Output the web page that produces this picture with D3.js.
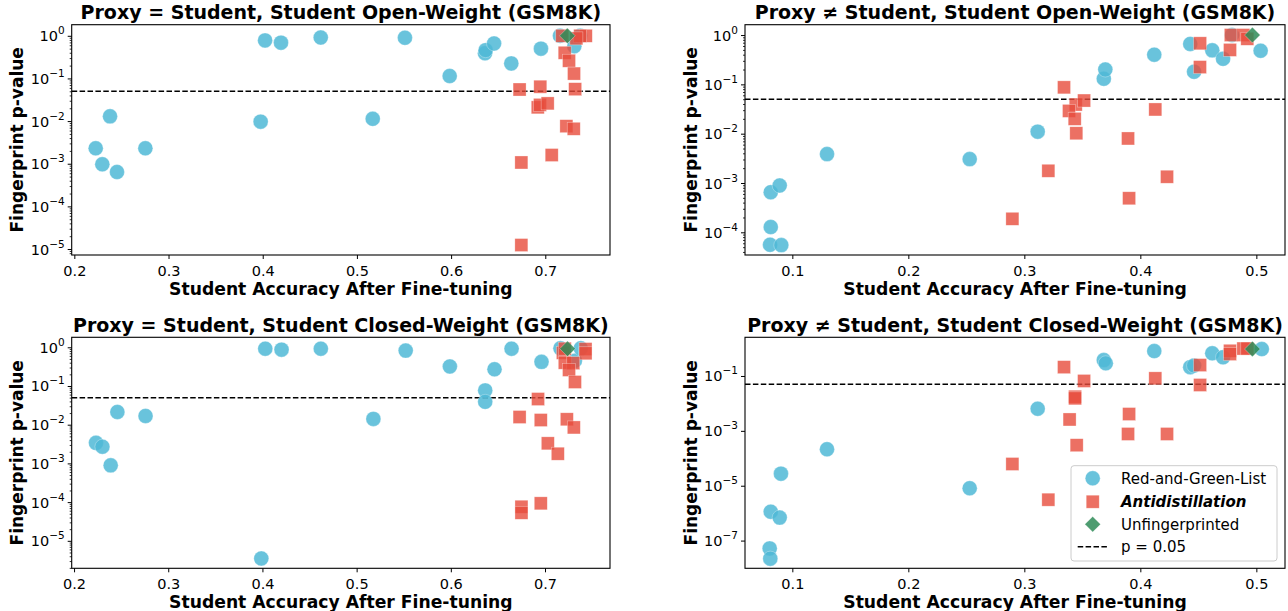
<!DOCTYPE html>
<html><head><meta charset="utf-8">
<script src="https://cdn.jsdelivr.net/npm/d3@7"></script>
<style>body{margin:0;background:#fff}svg{display:block;font-family:"DejaVu Sans",sans-serif}</style>
</head><body><svg id="c" width="1288" height="611"></svg>
<script>
// ---- Data: [student accuracy, fingerprint p-value] ----
const titles = [
  "Proxy = Student, Student Open-Weight (GSM8K)",
  "Proxy \u2260 Student, Student Open-Weight (GSM8K)",
  "Proxy = Student, Student Closed-Weight (GSM8K)",
  "Proxy \u2260 Student, Student Closed-Weight (GSM8K)"
];
const seriesNames = ["Red-and-Green-List", "Antidistillation", "Unfingerprinted", "p = 0.05"];
const threshold = 0.05;

const rgOpenSame = [[0.2227,0.0023],[0.2297,0.00097],[0.2379,0.0129],[0.2453,0.00064],[0.2754,0.0023],[0.3978,0.0097],[0.4025,0.78],[0.4194,0.69],[0.4616,0.91],[0.551,0.90],[0.5168,0.0113],[0.5985,0.114],[0.636,0.39],[0.6367,0.46],[0.6456,0.66],[0.6639,0.225],[0.6954,0.50],[0.7156,1.0],[0.7308,0.57],[0.737,1.0]];
const adOpenSame = [[0.718,1.0],[0.743,1.0],[0.737,1.0],[0.733,0.87],[0.7206,0.40],[0.7252,0.26],[0.7305,0.13],[0.6727,0.055],[0.6947,0.064],[0.7317,0.056],[0.692,0.021],[0.6944,0.024],[0.7025,0.026],[0.7224,0.0076],[0.7302,0.0066],[0.7068,0.0016],[0.6746,0.00107],[0.6746,1.24e-5]];
const ufOpenSame = [[0.7234,1.0]];

const rgOpenDiff = [[0.1299,0.00386],[0.2529,0.00305],[0.0814,0.00065],[0.0891,0.00089],[0.0814,0.000128],[0.0808,5.6e-5],[0.0905,5.5e-5],[0.3115,0.011],[0.3685,0.13],[0.3698,0.20],[0.412,0.40],[0.443,0.66],[0.4463,0.18],[0.462,0.49],[0.4713,0.33],[0.5037,0.48],[0.479,1.0]];
const adOpenDiff = [[0.2897,0.000188],[0.4515,0.68],[0.4514,0.224],[0.4773,0.50],[0.478,1.0],[0.4888,1.0],[0.4922,0.84],[0.3342,0.087],[0.3443,0.039],[0.3515,0.047],[0.3385,0.029],[0.3434,0.020],[0.3448,0.0102],[0.4129,0.031],[0.3894,0.008],[0.423,0.00134],[0.3207,0.00177],[0.3903,0.00049]];
const ufOpenDiff = [[0.4966,1.0]];

const rgClosedSame = [[0.2233,0.0034],[0.2301,0.0027],[0.2389,0.00089],[0.2460,0.0213],[0.2759,0.0168],[0.3988,3.5e-6],[0.403,0.92],[0.4203,0.87],[0.462,0.92],[0.5521,0.82],[0.5178,0.0141],[0.599,0.32],[0.6365,0.077],[0.6365,0.039],[0.6464,0.27],[0.6645,0.92],[0.6963,0.42],[0.7164,0.94],[0.7317,0.45],[0.738,0.94]];
const adClosedSame = [[0.719,0.72],[0.721,0.92],[0.743,0.9],[0.743,0.70],[0.721,0.40],[0.730,0.39],[0.7255,0.26],[0.7318,0.127],[0.6926,0.046],[0.673,0.0158],[0.6955,0.0132],[0.7232,0.0138],[0.7306,0.0085],[0.703,0.0033],[0.7136,0.00178],[0.6955,9.3e-5],[0.675,7.6e-5],[0.675,5.3e-5]];
const ufClosedSame = [[0.7239,0.92]];

const rgClosedDiff = [[0.1299,0.000213],[0.0902,2.75e-5],[0.0814,1.13e-6],[0.0891,6.9e-7],[0.0805,5.2e-8],[0.081,2.2e-8],[0.2529,8.1e-6],[0.3115,0.0064],[0.3685,0.38],[0.3702,0.29],[0.412,0.81],[0.443,0.21],[0.4463,0.24],[0.462,0.67],[0.4713,0.48],[0.5047,0.96]];
const adClosedDiff = [[0.2897,6.2e-5],[0.3342,0.21],[0.3515,0.066],[0.3437,0.0176],[0.3437,0.0153],[0.3390,0.0026],[0.3451,0.0003],[0.3207,3.1e-6],[0.4129,0.082],[0.3903,0.0041],[0.3894,0.00077],[0.423,0.00077],[0.4515,0.25],[0.4515,0.047],[0.4773,0.83],[0.4773,0.63],[0.4888,1.0],[0.4922,1.0]];
const ufClosedDiff = [[0.4966,0.96]];

const xTicksSame = [0.2,0.3,0.4,0.5,0.6,0.7];
const xTicksDiff = [0.1,0.2,0.3,0.4,0.5];
const yExpTL = [0,-1,-2,-3,-4,-5];
const yExpTR = [0,-1,-2,-3,-4];
const yExpBL = [0,-1,-2,-3,-4,-5];
const yExpBR = [-1,-3,-5,-7];

// ---- Layout ----
const panels = [
  {title:titles[0], L:71.7, R:610, T:24.7, B:255, xd:[0.1972,0.7687], yd:[-5.14,0.26], xt:xTicksSame, ye:yExpTL, minor:true, rg:rgOpenSame, ad:adOpenSame, uf:ufOpenSame},
  {title:titles[1], L:745, R:1285, T:24.7, B:255, xd:[0.0592,0.5247], yd:[-4.46,0.21], xt:xTicksDiff, ye:yExpTR, minor:true, rg:rgOpenDiff, ad:adOpenDiff, uf:ufOpenDiff},
  {title:titles[2], L:71.7, R:610, T:337.3, B:568.3, xd:[0.1975,0.769], yd:[-5.71,0.258], xt:xTicksSame, ye:yExpBL, minor:true, rg:rgClosedSame, ad:adClosedSame, uf:ufClosedSame},
  {title:titles[3], L:745, R:1285, T:337.3, B:568.3, xd:[0.0592,0.5247], yd:[-8.01,0.41], xt:xTicksDiff, ye:yExpBR, minor:false, rg:rgClosedDiff, ad:adClosedDiff, uf:ufClosedDiff, legend:true}
];

const C_RG = "#4fb8d6", C_AD = "#e74c3c", C_UF = "#2e8b57";
const svg = d3.select("#c");

function circle(g, x, y){ g.append("circle").attr("cx",x).attr("cy",y).attr("r",7.5).attr("fill",C_RG).attr("fill-opacity",0.85).attr("stroke","#fff").attr("stroke-opacity",0.5).attr("stroke-width",0.6); }
function square(g, x, y){ g.append("rect").attr("x",x-6.5).attr("y",y-6.5).attr("width",13).attr("height",13).attr("fill",C_AD).attr("fill-opacity",0.8).attr("stroke","#fff").attr("stroke-opacity",0.5).attr("stroke-width",0.6); }
function diamond(g, x, y){ const s=7.8; g.append("path").attr("d",`M${x},${y-s}L${x+s},${y}L${x},${y+s}L${x-s},${y}Z`).attr("fill",C_UF).attr("fill-opacity",0.85).attr("stroke","#fff").attr("stroke-opacity",0.5).attr("stroke-width",0.6); }

panels.forEach(p => {
  const x = d3.scaleLinear().domain(p.xd).range([p.L,p.R]);
  const y = d3.scaleLog().domain([Math.pow(10,p.yd[0]),Math.pow(10,p.yd[1])]).range([p.B,p.T]);
  const g = svg.append("g");
  const clipId = "clip"+Math.round(p.L)+"_"+Math.round(p.T);
  svg.append("clipPath").attr("id",clipId).append("rect").attr("x",p.L).attr("y",p.T).attr("width",p.R-p.L).attr("height",p.B-p.T);
  const plot = g.append("g").attr("clip-path",`url(#${clipId})`);

  // threshold line
  plot.append("line").attr("x1",p.L).attr("x2",p.R).attr("y1",y(threshold)).attr("y2",y(threshold))
    .attr("stroke","#000").attr("stroke-width",1.5).attr("stroke-dasharray","5.5,2.4");

  p.rg.forEach(d => circle(plot, x(d[0]), y(d[1])));
  p.ad.forEach(d => square(plot, x(d[0]), y(d[1])));
  p.uf.forEach(d => diamond(plot, x(d[0]), y(d[1])));

  // x axis
  const xa = g.append("g").attr("transform",`translate(0,${p.B})`)
    .call(d3.axisBottom(x).tickValues(p.xt).tickFormat(d3.format(".1f")).tickSize(4).tickSizeOuter(0));
  xa.select(".domain").remove();
  xa.selectAll(".tick text").attr("font-size",14.5).attr("font-family","DejaVu Sans").attr("fill","#000").attr("dy","0.95em");
  xa.selectAll(".tick line").attr("stroke","#000");

  // y axis major
  const ya = g.append("g").attr("transform",`translate(${p.L},0)`)
    .call(d3.axisLeft(y).tickValues(p.ye.map(e=>Math.pow(10,e))).tickFormat("").tickSize(4).tickSizeOuter(0));
  ya.select(".domain").remove();
  ya.selectAll(".tick line").attr("stroke","#000");
  ya.selectAll(".tick").each(function(d){
    const e = Math.round(Math.log10(d));
    const t = d3.select(this).append("text").attr("x",-7).attr("y",5).attr("text-anchor","end")
      .attr("font-family","DejaVu Sans").attr("fill","#000");
    t.append("tspan").attr("font-size",14.5).text("10");
    t.append("tspan").attr("font-size",10.5).attr("dy",-7).text(e<0 ? "\u2212"+(-e) : String(e));
  });
  if (p.minor) {
    const minors = [];
    for (let e=Math.floor(p.yd[0]); e<Math.ceil(p.yd[1]); e++) for (let k=2;k<10;k++){ const v=k*Math.pow(10,e); if (Math.log10(v)>=p.yd[0] && Math.log10(v)<=p.yd[1]) minors.push(v); }
    const ym = g.append("g").attr("transform",`translate(${p.L},0)`)
      .call(d3.axisLeft(y).tickValues(minors).tickFormat("").tickSize(2).tickSizeOuter(0));
    ym.select(".domain").remove();
    ym.selectAll(".tick line").attr("stroke","#000").attr("stroke-width",0.8);
  }

  // frame
  g.append("rect").attr("x",p.L).attr("y",p.T).attr("width",p.R-p.L).attr("height",p.B-p.T)
    .attr("fill","none").attr("stroke","#000").attr("stroke-width",1.1);

  // texts
  g.append("text").attr("x",(p.L+p.R)/2).attr("y",p.T-5.5).attr("text-anchor","middle")
    .attr("font-size",19).attr("font-weight","bold").text(p.title);
  g.append("text").attr("x",(p.L+p.R)/2).attr("y",p.B+39.5).attr("text-anchor","middle")
    .attr("font-size",17.2).attr("font-weight","bold").text("Student Accuracy After Fine-tuning");
  const lx = p.L - 48.5;
  g.append("text").attr("transform",`translate(${lx},${(p.T+p.B)/2}) rotate(-90)`).attr("text-anchor","middle")
    .attr("font-size",17).attr("font-weight","bold").text("Fingerprint p-value");

  if (p.legend) {
    const lg = g.append("g");
    lg.append("rect").attr("x",1071).attr("y",465.7).attr("width",206).attr("height",95.3).attr("rx",3)
      .attr("fill","#fff").attr("fill-opacity",0.8).attr("stroke","#ccc").attr("stroke-width",1);
    const rows = [478.3,501.7,524.3,546.7], mx = 1092.7, tx = 1121;
    circle(lg, mx, rows[0]); square(lg, mx, rows[1]); diamond(lg, mx, rows[2]);
    lg.append("line").attr("x1",1077.7).attr("x2",1109).attr("y1",rows[3]).attr("y2",rows[3])
      .attr("stroke","#000").attr("stroke-width",1.5).attr("stroke-dasharray","5.5,2.4");
    seriesNames.forEach((n,i) => {
      const t = lg.append("text").attr("x",tx).attr("y",rows[i]+5.5).attr("font-size",15).text(n);
      if (i===1) t.attr("font-weight","bold").attr("font-style","italic");
    });
  }
});
</script></body></html>
